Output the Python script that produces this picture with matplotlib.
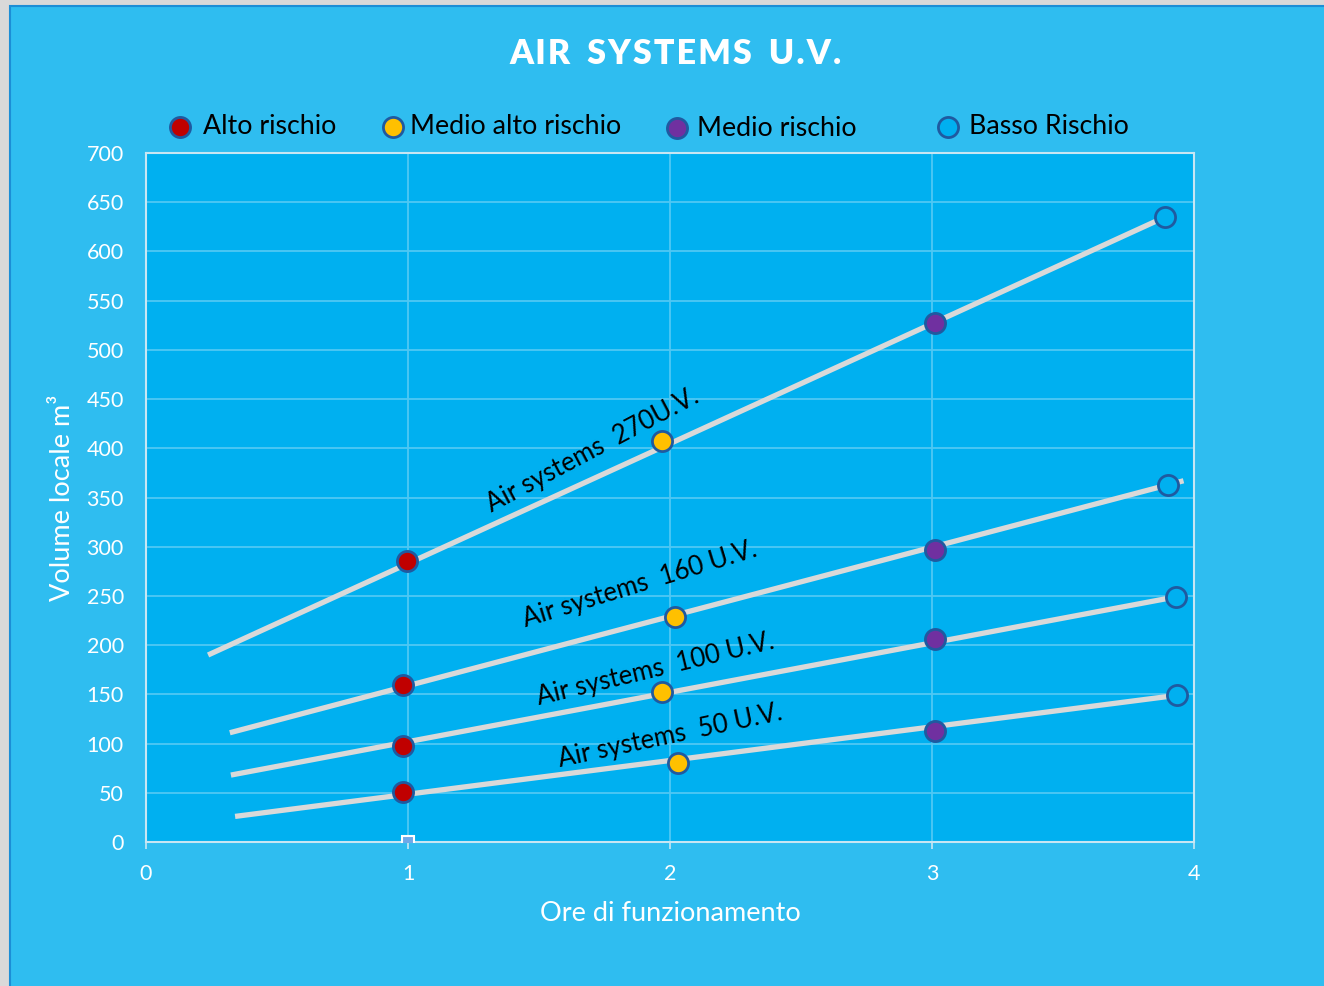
import matplotlib
matplotlib.use("Agg")
import matplotlib.pyplot as plt
from matplotlib.patches import Rectangle
from matplotlib.lines import Line2D

plt.rcParams['font.family'] = ['Lato', 'DejaVu Sans']

# ---- data ----
hours_points = [
    [0.996, 1.97, 3.01, 3.89],   # 270 U.V.
    [0.98, 2.02, 3.01, 3.90],    # 160 U.V.
    [0.98, 1.97, 3.01, 3.93],    # 100 U.V.
    [0.98, 2.03, 3.01, 3.935],   # 50 U.V.
]
volume_points = [
    [285, 407, 527, 635],
    [160, 229, 297, 363],
    [97.5, 152, 206, 249],
    [51, 80, 113, 149],
]
line_x = [[0.237, 3.89], [0.32, 3.96], [0.324, 3.93], [0.34, 3.935]]
line_y = [[190, 635], [111, 367], [68, 249], [26, 149]]
line_labels = ["Air systems  270U.V.", "Air systems  160 U.V.",
               "Air systems  100 U.V.", "Air systems  50 U.V."]
label_x = [1.705, 1.885, 1.945, 2.0]
label_y = [398, 262, 175, 108]
label_rot = [28, 17, 13.5, 12]
risk_names = ["Alto rischio", "Medio alto rischio", "Medio rischio", "Basso Rischio"]
risk_colors = ["#c00000", "#ffc000", "#7030a0", "#00b0f0"]
x_ticks = [0, 1, 2, 3, 4]
y_ticks = list(range(0, 701, 50))

# ---- figure ----
fig = plt.figure(figsize=(13.24, 9.86), dpi=100)
fig.patch.set_facecolor("#d9d9d9")
fig.add_artist(Rectangle((10/1324, -0.01), 1.02, 1 - 6/986 + 0.01,
                         transform=fig.transFigure, facecolor="#2fbdf0",
                         edgecolor="#1c8ed6", linewidth=1.5, zorder=0))

ax = fig.add_axes([146/1324, 1 - 842/986, (1194-146)/1324, (842-153)/986])
ax.set_facecolor("#00b0f0")
ax.set_xlim(0, 4)
ax.set_ylim(0, 700)
ax.set_xticks(x_ticks)
ax.set_yticks(y_ticks)
ax.grid(True, color="#4fc8f4", linewidth=1.3)
ax.set_axisbelow(True)
for s in ax.spines.values():
    s.set_color("#c8e6f3")
    s.set_linewidth(1.5)
ax.tick_params(axis='both', colors="#c8e6f3", labelcolor="white",
               labelsize=15.5, length=5, width=1.2)
ax.tick_params(axis='y', length=0, pad=16)
ax.tick_params(axis='x', pad=11)

ax.set_xlabel("Ore di funzionamento", color="white", fontsize=19.5, labelpad=12)
ax.set_ylabel("Volume locale m³", color="white", fontsize=19.5, labelpad=8)

for lx, ly in zip(line_x, line_y):
    ax.plot(lx, ly, color="#d9d9d9", linewidth=3.8, solid_capstyle='butt', zorder=3)

for hx, vy in zip(hours_points, volume_points):
    for x, y, c in zip(hx, vy, risk_colors):
        ax.plot([x], [y], 'o', markersize=14.5, markerfacecolor=c,
                markeredgecolor="#1f5aa0", markeredgewidth=2.0, zorder=4)

# small square marker at (1, 0)
ax.plot([1], [0], 's', markersize=8, markerfacecolor="#6fa8e8",
        markeredgecolor="white", markeredgewidth=1.5, zorder=5, clip_on=True)

for t, x, y, r in zip(line_labels, label_x, label_y, label_rot):
    ax.text(x, y, t, rotation=r, rotation_mode='anchor', ha='center', va='center',
            fontsize=18.5, color="black", zorder=6)

fig.text(676/1324, 1 - 54/986, "A I R   S Y S T E M S   U . V .".replace("   ", "\u2002").replace(" ", "\u200a"),
         ha='center', va='center', color="white", fontsize=24.5, fontweight='heavy')

leg_marker_x = [180, 393, 677, 948]
leg_text_x = [203, 410, 697, 969]
leg_y = [127, 127, 128, 127]
for mx, tx, yy, name, c in zip(leg_marker_x, leg_text_x, leg_y, risk_names, risk_colors):
    fig.add_artist(Line2D([mx/1324], [1 - yy/986], marker='o', markersize=14.5,
                          markerfacecolor=c, markeredgecolor="#1f5aa0",
                          markeredgewidth=2.0, transform=fig.transFigure))
    fig.text(tx/1324, 1 - yy/986, name, ha='left', va='center',
             fontsize=19.3, color="black")

fig.savefig("out.png", dpi=100, facecolor=fig.get_facecolor())
